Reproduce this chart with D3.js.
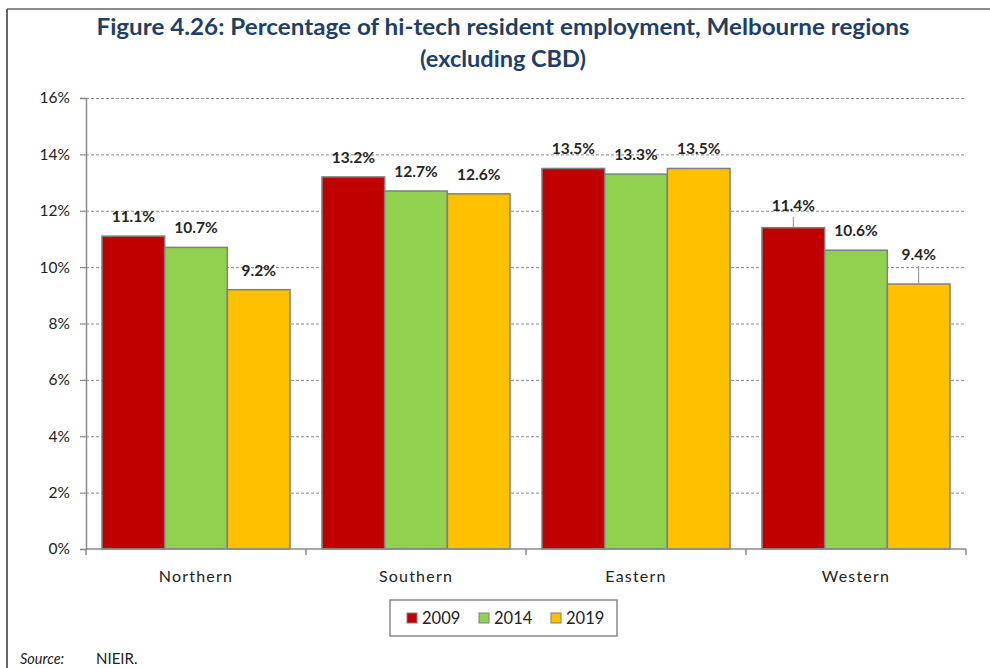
<!DOCTYPE html>
<html>
<head>
<meta charset="utf-8">
<script src="https://cdn.jsdelivr.net/npm/d3@7"></script>
<style>
  html, body { margin: 0; padding: 0; background: #fff; }
  svg { display: block; }
  text { font-family: Lato, "Open Sans", "Liberation Sans", sans-serif; }
</style>
</head>
<body>
<svg id="chart" width="990" height="668"></svg>
<script>
// Hi-tech resident employment share by Melbourne region (excluding CBD)
const regions = ["Northern", "Southern", "Eastern", "Western"];
const years = ["2009", "2014", "2019"];
const values2009 = [11.1, 13.2, 13.5, 11.4];
const values2014 = [10.7, 12.7, 13.3, 10.6];
const values2019 = [9.2, 12.6, 13.5, 9.4];
const yTicks = [0, 2, 4, 6, 8, 10, 12, 14, 16];

const seriesValues = [values2009, values2014, values2019];
const colors = ["#C00000", "#92D050", "#FFC000"];

const svg = d3.select("#chart");
const W = 990, H = 668;

// outer frame
svg.append("line").attr("x1", 7).attr("x2", W).attr("y1", 9).attr("y2", 9)
  .attr("stroke", "#8c8c8c").attr("stroke-width", 2);
svg.append("line").attr("x1", 7).attr("x2", 7).attr("y1", 9).attr("y2", H)
  .attr("stroke", "#333").attr("stroke-width", 1.5);

// title
const title = svg.append("text").attr("text-anchor", "middle")
  .attr("fill", "#1F3F66").attr("font-weight", "bold").attr("font-size", 22.5);
title.append("tspan").attr("x", 503).attr("y", 35)
  .attr("textLength", 813).attr("lengthAdjust", "spacingAndGlyphs")
  .text("Figure 4.26:  Percentage of hi-tech resident employment, Melbourne regions");
title.append("tspan").attr("x", 503).attr("y", 67)
  .attr("textLength", 166).attr("lengthAdjust", "spacingAndGlyphs")
  .text("(excluding CBD)");

const plot = { left: 86, right: 966, top: 98, bottom: 549 };

const x0 = d3.scaleBand().domain(regions).range([plot.left, plot.right]).paddingInner(0).paddingOuter(0);
const groupPad = 16;
const x1 = d3.scaleBand().domain(years)
  .range([groupPad, x0.bandwidth() - groupPad]).padding(0);
const y = d3.scaleLinear().domain([0, 16]).range([plot.bottom, plot.top]);

// gridlines
svg.append("g").selectAll("line").data(yTicks.filter(t => t > 0)).join("line")
  .attr("x1", plot.left).attr("x2", plot.right)
  .attr("y1", d => y(d) + 0.5).attr("y2", d => y(d) + 0.5)
  .attr("stroke", "#8a8a8a").attr("stroke-width", 1).attr("stroke-dasharray", "3,2");

// y axis
const yAxis = svg.append("g").attr("transform", `translate(${plot.left},0)`)
  .call(d3.axisLeft(y).tickValues(yTicks).tickFormat(d => d + "%").tickSize(6).tickPadding(10));
yAxis.select(".domain").attr("stroke", "#8a8a8a").attr("stroke-width", 1.5);
yAxis.selectAll(".tick line").attr("stroke", "#8a8a8a").attr("stroke-width", 1.2);
yAxis.selectAll(".tick text").attr("font-size", 15.5).attr("fill", "#222")
  .attr("font-family", "Lato, sans-serif");

// bars
const data = regions.map((r, i) => ({
  region: r,
  items: years.map((yr, j) => ({ region: r, year: yr, value: seriesValues[j][i], color: colors[j] }))
}));

const groups = svg.append("g").selectAll("g").data(data).join("g")
  .attr("transform", d => `translate(${x0(d.region)},0)`);

groups.selectAll("rect").data(d => d.items).join("rect")
  .attr("x", d => x1(d.year))
  .attr("width", x1.bandwidth())
  .attr("y", d => y(d.value))
  .attr("height", d => y(0) - y(d.value))
  .attr("fill", d => d.color)
  .attr("stroke", "#7f7f7f").attr("stroke-width", 1.5);

// value labels, some lifted with a short leader line
const lift = { "Western-2009": 3, "Western-2019": 10 };
groups.each(function (g) {
  const sel = d3.select(this);
  g.items.forEach(d => {
    const cx = x1(d.year) + x1.bandwidth() / 2;
    const extra = lift[d.region + "-" + d.year] || 0;
    const by = y(d.value) - 14 - extra;
    if (extra > 0) {
      sel.append("line").attr("x1", cx).attr("x2", cx)
        .attr("y1", by + 6).attr("y2", y(d.value))
        .attr("stroke", "#8a8a8a").attr("stroke-width", 1);
    }
    sel.append("text").attr("x", cx).attr("y", by)
      .attr("text-anchor", "middle").attr("font-size", 15.5).attr("font-weight", "bold")
      .attr("fill", "#262626").text(d.value.toFixed(1) + "%");
  });
});

// x axis
const xAxis = svg.append("g").attr("transform", `translate(0,${plot.bottom})`);
xAxis.append("line").attr("x1", plot.left).attr("x2", plot.right)
  .attr("stroke", "#8a8a8a").attr("stroke-width", 1.5);
const bounds = regions.map(r => x0(r)).concat([plot.right]);
xAxis.selectAll("line.t").data(bounds).join("line").attr("class", "t")
  .attr("x1", d => d).attr("x2", d => d).attr("y1", 0).attr("y2", 6)
  .attr("stroke", "#8a8a8a").attr("stroke-width", 1.5);
xAxis.selectAll("text").data(regions).join("text")
  .attr("x", d => x0(d) + x0.bandwidth() / 2).attr("y", 33)
  .attr("text-anchor", "middle").attr("font-size", 16).attr("fill", "#222")
  .attr("letter-spacing", 1.2).text(d => d);

// legend
const legend = svg.append("g").attr("transform", "translate(390,600)");
legend.append("rect").attr("x", 0).attr("y", 0).attr("width", 227).attr("height", 36)
  .attr("fill", "#fff").attr("stroke", "#8a8a8a").attr("stroke-width", 1.5);
const items = legend.selectAll("g").data(years).join("g")
  .attr("transform", (d, i) => `translate(${17 + i * 72},0)`);
items.append("rect").attr("x", 0).attr("y", 13).attr("width", 10).attr("height", 10)
  .attr("fill", (d, i) => colors[i]).attr("stroke", "#7f7f7f").attr("stroke-width", 1);
items.append("text").attr("x", 15).attr("y", 24).attr("font-size", 16.5)
  .attr("fill", "#222").text(d => d);

// source note
svg.append("text").attr("x", 20).attr("y", 664).attr("font-size", 14.5)
  .attr("font-style", "italic").attr("fill", "#222").text("Source:");
svg.append("text").attr("x", 96).attr("y", 664).attr("font-size", 15)
  .attr("fill", "#222").text("NIEIR.");
</script>
</body>
</html>
